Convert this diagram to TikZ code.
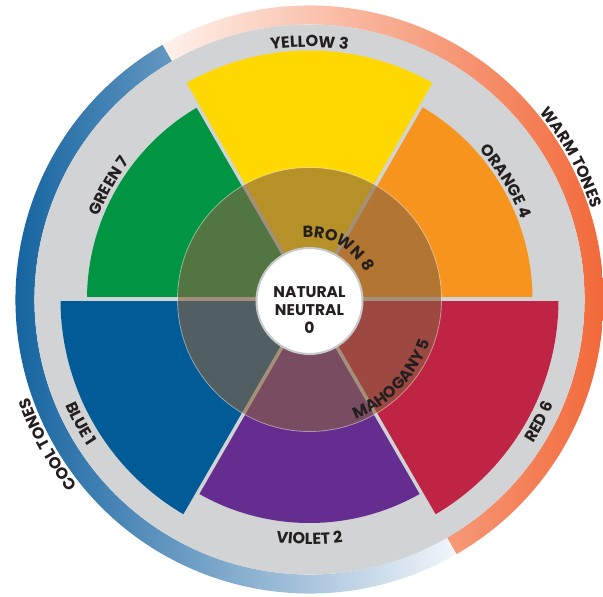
\documentclass[tikz,border=0pt]{standalone}
\usepackage{fontspec}
\setmainfont{Poppins}
\usepackage{tikz}
\usetikzlibrary{decorations.text}

\definecolor{wheelgray}{RGB}{209,211,212}
\definecolor{ringedge}{RGB}{200,201,203}
\definecolor{yellowthree}{RGB}{254,216,0}
\definecolor{orangefour}{RGB}{247,148,29}
\definecolor{redsix}{RGB}{192,36,68}
\definecolor{violettwo}{RGB}{102,45,145}
\definecolor{blueone}{RGB}{0,91,151}
\definecolor{greenseven}{RGB}{0,149,67}
\definecolor{brownoverlay}{RGB}{135,98,65}
\definecolor{warmlight}{RGB}{254,242,236}
\definecolor{warmdark}{RGB}{241,92,40}
\definecolor{cooldark}{RGB}{0,86,152}
\definecolor{coollight}{RGB}{244,246,251}
\definecolor{labelink}{RGB}{35,31,32}

\newcommand{\lblfont}{\bfseries\fontsize{16}{18}\selectfont}
\newcommand{\midfont}{\bfseries\fontsize{15.5}{18}\selectfont}

\begin{document}
\begin{tikzpicture}[x=1pt, y=1pt]
        \tikzstyle{gap}=[draw=wheelgray, line width=4pt]
        \tikzstyle{arclabel}=[decorate, decoration={text along path, text align=center, text color=labelink}]

        \useasboundingbox (-309.5,-297.5) rectangle (293.5,299.5);
        \fill[white] (-309.5,-297.5) rectangle (293.5,299.5);

        % Warm tones ring
        \shade[left color=warmlight, right color=warmdark] (120:294) arc[start angle=120, end angle=-60, radius=294] -- (-60:275) arc[start angle=-60, end angle=120, radius=275] -- cycle;

        % Cool tones ring
        \shade[left color=cooldark, right color=coollight] (120:294) arc[start angle=120, end angle=300, radius=294] -- (300:275) arc[start angle=300, end angle=120, radius=275] -- cycle;

        % Gray disc
        \fill[wheelgray] (0,0) circle[radius=275];

        % Colour sectors
        \fill[yellowthree] (0,0) -- (60:249) arc[start angle=60, end angle=120, radius=249] -- cycle;
        \fill[greenseven] (0,0) -- (120:222.5) arc[start angle=120, end angle=180, radius=222.5] -- cycle;
        \fill[blueone] (0,0) -- (180:249) arc[start angle=180, end angle=240, radius=249] -- cycle;
        \fill[violettwo] (0,0) -- (240:223.5) arc[start angle=240, end angle=300, radius=223.5] -- cycle;
        \fill[redsix] (0,0) -- (300:249) arc[start angle=300, end angle=360, radius=249] -- cycle;
        \fill[orangefour] (0,0) -- (0:223) arc[start angle=0, end angle=60, radius=223] -- cycle;

        % Gaps
        \draw[gap] (0:251) -- (180:251);
        \draw[gap, line width=3.5pt] (60:251) -- (240:251);
        \draw[gap, line width=3.5pt] (120:251) -- (300:251);

        % Brown / mahogany overlay
        \fill[brownoverlay, fill opacity=0.6] (0,0) circle[radius=132];
        \draw[white, draw opacity=0.45, line width=0.8pt] (0,0) circle[radius=132];

        % Natural neutral
        \node (neutral) [circle, fill=white, draw=ringedge, line width=2pt, minimum size=106pt, inner sep=0pt] at (0,-1.5) {};
        \node (neutraltext) [align=center, text=labelink, font=\midfont] at (0,-10.5) {NATURAL\\NEUTRAL\\0};

        % Sector labels
        \path[arclabel, decoration={text={|\lblfont|YELLOW 3}}] (130:252.5) arc[start angle=130, end angle=50, radius=252.5];
        \path[arclabel, decoration={text={|\lblfont|ORANGE 4}}] (71:226.5) arc[start angle=71, end angle=-9, radius=226.5];
        \path[arclabel, decoration={text={|\lblfont|GREEN 7}}] (190.5:226.5) arc[start angle=190.5, end angle=110.5, radius=226.5];
        \path[arclabel, decoration={text={|\lblfont|RED 6}}] (-68:266) arc[start angle=-68, end angle=12, radius=266];
        \path[arclabel, decoration={text={|\lblfont|VIOLET 2}}] (230:245) arc[start angle=230, end angle=310, radius=245];
        \path[arclabel, decoration={text={|\lblfont|BLUE 1}}] (168.5:266) arc[start angle=168.5, end angle=248.5, radius=266];

        % Inner labels
        \path[arclabel, decoration={text={|\lblfont|BROWN 8}}] (131:62) arc[start angle=131, end angle=-9, radius=62];
        \path[arclabel, decoration={text={|\lblfont|MAHOGANY 5}}] (-104:128) arc[start angle=-104, end angle=16, radius=128];

        % Tone labels
        \path[arclabel, decoration={text={|\lblfont|WARM TONES}}] (68.5:296.5) arc[start angle=68.5, end angle=-11.5, radius=296.5];
        \path[arclabel, decoration={text={|\lblfont|COOL TONES}}] (249:297) arc[start angle=249, end angle=169, radius=297];
    \end{tikzpicture}
\end{document}
